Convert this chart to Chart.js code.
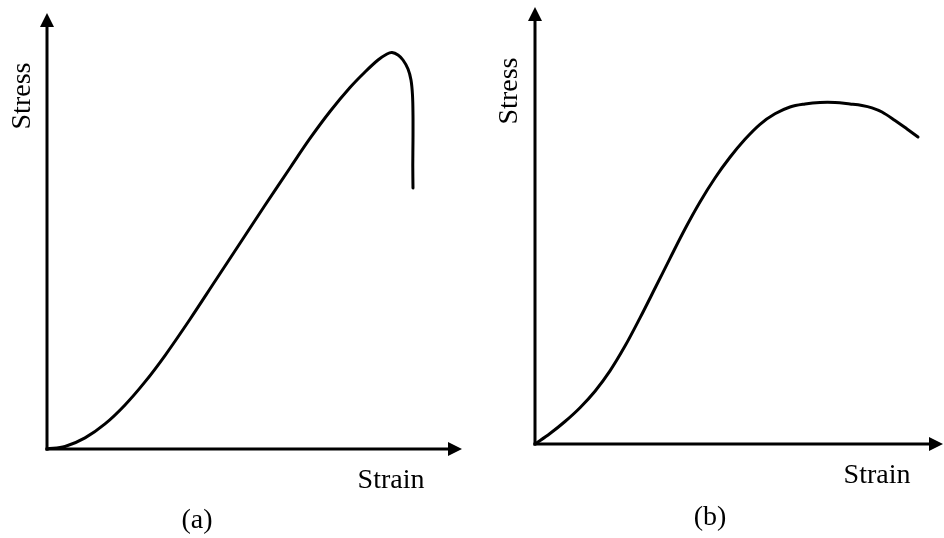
<!DOCTYPE html>
<html>
<head>
<meta charset="utf-8">
<script src="https://cdn.jsdelivr.net/npm/chart.js@4/dist/chart.umd.min.js"></script>
<style>
  html, body { margin: 0; padding: 0; background: #fff; }
  #wrap { position: relative; width: 944px; height: 538px; overflow: hidden; }
  .panel { position: absolute; top: 0; width: 472px; height: 538px; }
</style>
</head>
<body>
<div id="wrap">
  <div class="panel" style="left:0"><canvas id="ca" width="472" height="538"></canvas></div>
  <div class="panel" style="left:472px"><canvas id="cb" width="472" height="538"></canvas></div>
</div>
<script>
// ---- data (arbitrary units, both axes run 0..100) ----
const strainA = [0, 4.34, 9.16, 13.98, 18.80, 23.61, 28.43, 34.46, 40.48, 46.51, 52.53, 58.55, 63.37, 68.19, 73.01, 76.63, 79.76, 81.93, 83.13, 84.58, 85.78, 86.99, 87.71, 88.07, 88.19, 88.19, 88.14, 88.19];
const stressA = [0, 0.57, 2.55, 5.76, 10.11, 15.39, 21.44, 29.76, 38.47, 47.19, 55.91, 64.45, 71.22, 77.41, 82.91, 86.47, 89.22, 90.60, 90.94, 90.37, 89.22, 87.16, 84.63, 81.19, 76.61, 70.87, 65.14, 59.86];
const strainB = [0, 3.68, 7.35, 11.03, 14.71, 18.38, 22.06, 25.74, 29.41, 33.09, 36.76, 40.44, 44.12, 47.79, 51.47, 55.15, 58.82, 62.50, 66.18, 69.85, 73.53, 77.21, 80.15, 82.60, 85.05, 88.24, 91.18, 93.87];
const stressB = [0, 2.40, 5.15, 8.31, 12.08, 16.73, 22.40, 28.86, 35.63, 42.49, 49.20, 55.38, 60.87, 65.61, 69.73, 73.16, 75.56, 77.12, 77.80, 78.15, 78.15, 77.80, 77.46, 76.93, 75.97, 74.03, 72.08, 70.25];
const xTitle = 'Strain';
const yTitle = 'Stress';
const panelTitles = ['(a)', '(b)'];

const FONT = '28px "Liberation Serif", "Times New Roman", serif';

const sketchPlugin = {
  id: 'sketch',
  beforeDatasetsDraw(chart, args, opts) {
    const ctx = chart.ctx;
    const xs = chart.scales.x, ys = chart.scales.y;
    const x0 = xs.getPixelForValue(0), x1 = xs.getPixelForValue(xs.max);
    const y0 = ys.getPixelForValue(0), y1 = ys.getPixelForValue(ys.max);
    ctx.save();
    ctx.strokeStyle = '#000';
    ctx.fillStyle = '#000';
    ctx.lineWidth = 3;
    ctx.lineCap = 'butt';
    // y axis
    ctx.beginPath(); ctx.moveTo(x0, y0 + 1.5); ctx.lineTo(x0, y1 + 10); ctx.stroke();
    ctx.beginPath(); ctx.moveTo(x0, y1); ctx.lineTo(x0 - 7, y1 + 14); ctx.lineTo(x0 + 7, y1 + 14); ctx.closePath(); ctx.fill();
    // x axis
    ctx.beginPath(); ctx.moveTo(x0 - 1.5, y0); ctx.lineTo(x1 - 10, y0); ctx.stroke();
    ctx.beginPath(); ctx.moveTo(x1, y0); ctx.lineTo(x1 - 14, y0 - 7); ctx.lineTo(x1 - 14, y0 + 7); ctx.closePath(); ctx.fill();
    // texts
    ctx.font = FONT;
    ctx.textAlign = 'center';
    ctx.textBaseline = 'alphabetic';
    ctx.fillText(xTitle, opts.xLabel[0], opts.xLabel[1]);
    ctx.fillText(panelTitles[opts.panel], opts.pLabel[0], opts.pLabel[1]);
    ctx.save();
    ctx.translate(opts.yLabel[0], opts.yLabel[1]);
    ctx.rotate(-Math.PI / 2);
    ctx.fillText(yTitle, 0, 0);
    ctx.restore();
    ctx.restore();
  }
};

function makeChart(id, xs, ys, pad, opts) {
  const pts = xs.map((v, i) => ({ x: v, y: ys[i] }));
  return new Chart(document.getElementById(id), {
    type: 'scatter',
    data: { datasets: [{ data: pts, showLine: true, borderColor: '#000', borderWidth: 3,
      pointRadius: 0, pointHoverRadius: 0, tension: 0.35, fill: false, clip: false,
      borderCapStyle: 'round', borderJoinStyle: 'round' }] },
    options: {
      responsive: false, animation: false, devicePixelRatio: 1,
      layout: { padding: pad },
      scales: {
        x: { type: 'linear', min: 0, max: 100, display: false },
        y: { type: 'linear', min: 0, max: 100, display: false }
      },
      plugins: { legend: { display: false }, tooltip: { enabled: false }, sketch: opts }
    },
    plugins: [sketchPlugin]
  });
}

makeChart('ca', strainA, stressA, { left: 47, right: 10, top: 13, bottom: 89 },
  { panel: 0, xLabel: [391, 488], yLabel: [30, 96], pLabel: [197, 528] });
makeChart('cb', strainB, stressB, { left: 63, right: 1, top: 7, bottom: 94 },
  { panel: 1, xLabel: [405, 483], yLabel: [45, 91], pLabel: [238, 525] });
</script>
</body>
</html>
